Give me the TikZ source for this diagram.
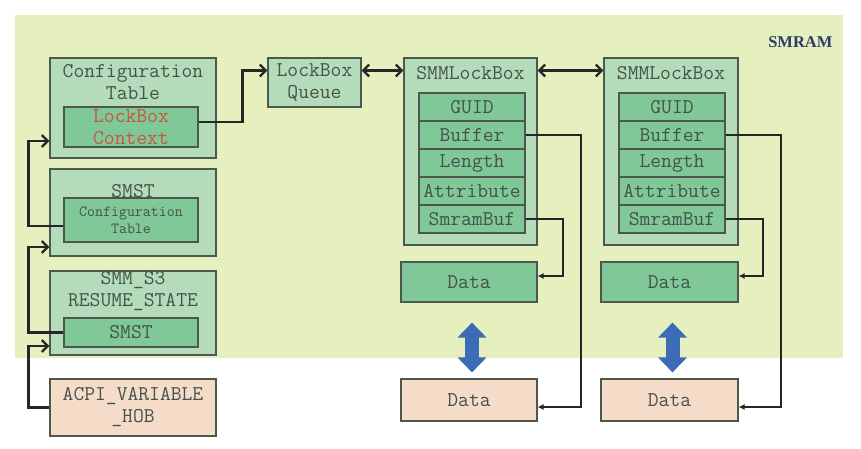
\documentclass[tikz,border=0pt]{standalone}
\usepackage{fontspec}
\usetikzlibrary{arrows.meta,positioning}
\newfontfamily\smramfont{Liberation Serif}
\definecolor{smrambg}{HTML}{E6EFBE}
\definecolor{outergreen}{HTML}{B4DCBA}
\definecolor{innergreen}{HTML}{80C897}
\definecolor{peach}{HTML}{F4DCC9}
\definecolor{boxline}{HTML}{4C584E}
\definecolor{boxtext}{HTML}{45524A}
\definecolor{ctxred}{HTML}{C9553F}
\definecolor{smramblue}{HTML}{2C3B68}
\definecolor{xferblue}{HTML}{3C6CB7}
\tikzset{
  txt/.style={text=boxtext, font=\ttfamily\fontsize{21}{22}\selectfont, align=center, inner sep=0pt},
  smalltxt/.style={txt, font=\ttfamily\fontsize{15.5}{17}\selectfont},
  outerbox/.style={draw=boxline, fill=outergreen, line width=1.1pt, inner sep=0pt},
  innerbox/.style={txt, draw=boxline, fill=innergreen, line width=1.1pt},
  hobbox/.style={txt, draw=boxline, fill=peach, line width=1.1pt},
  fieldbox/.style={innerbox, minimum width=106pt, minimum height=28pt},
  conn/.style={draw=black!85, line width=2.3pt, -{Straight Barb[length=6pt,width=12pt]}},
  dblconn/.style={conn, {Straight Barb[length=6pt,width=12pt]}-{Straight Barb[length=6pt,width=12pt]}},
  dataconn/.style={draw=black!85, line width=1.9pt, -{Latex[length=6pt,width=6pt]}},
  xfer/.style={draw=xferblue, line width=14pt, {Triangle[width=28pt,length=15pt]}-{Triangle[width=28pt,length=15pt]}}
}
\begin{document}
\begin{tikzpicture}[x=1pt,y=-1pt]
    \useasboundingbox (0,0) rectangle (861,448);
    \fill[smrambg] (15,15) rectangle (843,358);
    \node[anchor=east, text=smramblue, font=\smramfont\bfseries\fontsize{16.5}{18}\selectfont] (smram) at (836,42) {SMRAM};

    %%left column
    \node[outerbox, minimum width=166pt, minimum height=100pt] (cfg) at (133,108) {};
        \node[txt] (cfgtitle) at (133,82.5) {Configuration\\Table};
        \node[innerbox, minimum width=134pt, minimum height=40pt, text=ctxred] (lbctx) at (131,127) {LockBox\\Context};

    \node[outerbox, minimum width=166pt, minimum height=87pt] (smst) at (133,212.5) {};
        \node[txt] (smsttitle) at (133,191) {SMST};
        \node[innerbox, smalltxt, minimum width=134pt, minimum height=44pt] (smstcfg) at (131,220) {Configuration\\Table};

    \node[outerbox, minimum width=166pt, minimum height=84pt] (s3) at (133,313) {};
        \node[txt] (s3title) at (133,291) {SMM\_S3\\RESUME\_STATE};
        \node[innerbox, minimum width=134pt, minimum height=29pt] (s3smst) at (131,332.5) {SMST};

    \node[hobbox, minimum width=166pt, minimum height=57pt] (acpi) at (133,407.5) {ACPI\_VARIABLE\\\_HOB};

    \draw[conn] ([yshift=-6pt]smstcfg.west) -- ++(-35,0) |- ([yshift=-33pt]cfg.west);
    \draw[conn] (s3smst.west) -- ++(-35,0) |- ([yshift=-34.5pt]smst.west);
    \draw[conn] (acpi.west) -- ++(-21,0) |- ([yshift=-33pt]s3.west);

    %%queue
    \node[outerbox, txt, minimum width=93pt, minimum height=49pt] (lbq) at (314.5,82.5) {LockBox\\Queue};
    \draw[conn] ([yshift=5pt]lbctx.east) -- ++(44,0) |- ([yshift=12pt]lbq.west);
    \coordinate (qlink) at ([yshift=12pt]lbq.east);

    %%first SMMLockBox
    \node[outerbox, minimum width=133pt, minimum height=187pt] (lb1) at (470.5,151.5) {};
        \node[txt] (lb1title) at (470.5,73) {SMMLockBox};
        \node[fieldbox] (guid1) at (472,107) {GUID};
        \node[fieldbox] (buf1) at (472,135) {Buffer};
        \node[fieldbox] (len1) at (472,163) {Length};
        \node[fieldbox] (attr1) at (472,191) {Attribute};
        \node[fieldbox] (smb1) at (472,219) {SmramBuf};
    \node[innerbox, minimum width=136pt, minimum height=40pt] (dg1) at (469,282) {Data};
    \node[hobbox, minimum width=136pt, minimum height=42pt] (dp1) at (469,400) {Data};

    %%second SMMLockBox
    \node[outerbox, minimum width=134pt, minimum height=187pt] (lb2) at (671,151.5) {};
        \node[txt] (lb2title) at (671,73) {SMMLockBox};
        \node[fieldbox] (guid2) at (672,107) {GUID};
        \node[fieldbox] (buf2) at (672,135) {Buffer};
        \node[fieldbox] (len2) at (672,163) {Length};
        \node[fieldbox] (attr2) at (672,191) {Attribute};
        \node[fieldbox] (smb2) at (672,219) {SmramBuf};
    \node[innerbox, minimum width=137pt, minimum height=40pt] (dg2) at (669.5,282) {Data};
    \node[hobbox, minimum width=137pt, minimum height=42pt] (dp2) at (669.5,400) {Data};

    \draw[dblconn] (qlink) -- (qlink -| lb1.west);
    \draw[dblconn] (qlink -| lb1.east) -- (qlink -| lb2.west);

    \draw[dataconn] (buf1.east) -- ++(55,0) |- ([yshift=-7pt]dp1.east);
    \draw[dataconn] (smb1.east) -- ++(37,0) |- ([yshift=6pt]dg1.east);
    \draw[dataconn] (buf2.east) -- ++(55,0) |- ([yshift=-7pt]dp2.east);
    \draw[dataconn] (smb2.east) -- ++(37,0) |- ([yshift=6pt]dg2.east);

    \draw[xfer] ([xshift=3pt,yshift=-20pt]dg1.south) -- ([xshift=3pt,yshift=6pt]dp1.north);
    \draw[xfer] ([xshift=3pt,yshift=-20pt]dg2.south) -- ([xshift=3pt,yshift=6pt]dp2.north);
\end{tikzpicture}
\end{document}
